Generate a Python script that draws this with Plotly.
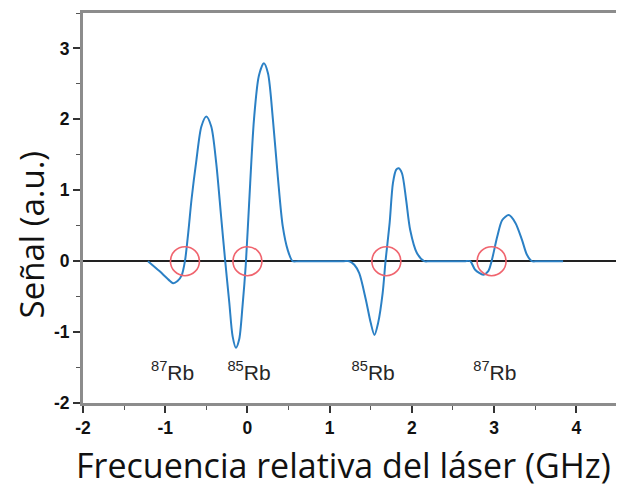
import plotly.graph_objects as go

# ---- data ----
freq_ghz = [-1.21, -1.07, -0.96, -0.905, -0.85, -0.80, -0.76, -0.72, -0.68, -0.62,
            -0.56, -0.50, -0.44, -0.38, -0.32, -0.27, -0.22, -0.18, -0.14, -0.10,
            -0.06, -0.02, 0.02, 0.08, 0.14, 0.20, 0.25, 0.31, 0.37, 0.43,
            0.49, 0.55, 0.62, 1.17, 1.24, 1.30, 1.36, 1.44, 1.50, 1.545,
            1.59, 1.645, 1.68, 1.73, 1.77, 1.81, 1.84, 1.88, 1.93, 1.98,
            2.06, 2.15, 2.22, 2.64, 2.71, 2.77, 2.87, 2.93, 2.97, 3.04,
            3.10, 3.18, 3.26, 3.34, 3.40, 3.46, 3.53, 3.84]
signal_au = [0.0, -0.14, -0.26, -0.31, -0.28, -0.20, 0.0, 0.40, 0.87, 1.43,
             1.90, 2.04, 1.90, 1.39, 0.63, 0.0, -0.59, -1.06, -1.22, -1.10,
             -0.64, -0.05, 0.80, 2.00, 2.62, 2.79, 2.65, 2.00, 1.19, 0.49,
             0.16, 0.0, 0.0, 0.0, 0.0, -0.05, -0.17, -0.54, -0.87, -1.04,
             -0.87, -0.45, 0.0, 0.54, 1.10, 1.29, 1.31, 1.24, 0.87, 0.44,
             0.12, 0.0, 0.0, 0.0, 0.0, -0.12, -0.19, -0.14, 0.0, 0.35,
             0.58, 0.65, 0.54, 0.30, 0.09, 0.0, 0.0, 0.0]

circle_x = [-0.76, 0.0, 1.69, 2.97]
circle_y = [0, 0, 0, 0]

label_x = [-0.91, 0.02, 1.53, 3.01]
label_y = [-1.6, -1.6, -1.6, -1.6]
label_text = ["<sup>87</sup>Rb", "<sup>85</sup>Rb", "<sup>85</sup>Rb", "<sup>87</sup>Rb"]

x_ticks = [-2, -1, 0, 1, 2, 3, 4]
x_tick_labels = ["<b>-2</b>", "<b>-1</b>", "<b>0</b>", "<b>1</b>", "<b>2</b>", "<b>3</b>", "<b>4</b>"]
y_ticks = [-2, -1, 0, 1, 2, 3]
y_tick_labels = ["<b>-2</b>", "<b>-1</b>", "<b>0</b>", "<b>1</b>", "<b>2</b>", "<b>3</b>"]

x_title = "Frecuencia relativa del láser (GHz)"
y_title = "Señal (a.u.)"

fig = go.Figure()

fig.add_trace(go.Scatter(
    x=freq_ghz, y=signal_au, mode="lines",
    line=dict(color="#2b80c5", width=2, shape="spline", smoothing=0.8),
    showlegend=False, hoverinfo="skip"))

fig.add_trace(go.Scatter(
    x=circle_x, y=circle_y, mode="markers",
    marker=dict(symbol="circle-open", size=29, color="#f0646e",
                line=dict(width=1.6, color="#f0646e")),
    showlegend=False, hoverinfo="skip"))

fig.add_trace(go.Scatter(
    x=label_x, y=label_y, mode="text", text=label_text,
    textfont=dict(family="Liberation Sans Narrow, Liberation Sans, Arial", size=21, color="#262626"),
    showlegend=False, hoverinfo="skip"))

axis_common = dict(
    showline=True, linecolor="#8c8c8c", linewidth=3, mirror=True,
    ticks="outside", ticklen=7, tickwidth=1.5, tickcolor="#333333",
    showgrid=False, automargin=False,
    tickfont=dict(family="Liberation Sans, Arial", size=17.5, color="#111111"),
    minor=dict(ticks="outside", ticklen=4, tickwidth=1.2, tickcolor="#555555", dtick=0.5, showgrid=False),
)

fig.update_xaxes(
    range=[-2, 4.52], tickmode="array", tickvals=x_ticks, ticktext=x_tick_labels,
    zeroline=False, **axis_common)
fig.update_yaxes(
    range=[-2, 3.5], tickmode="array", tickvals=y_ticks, ticktext=y_tick_labels,
    zeroline=True, zerolinecolor="#222222", zerolinewidth=1.6, **axis_common)

fig.add_annotation(text=x_title, xref="paper", yref="paper", x=0.486, y=-0.158,
                   xanchor="center", yanchor="middle", showarrow=False,
                   font=dict(family="Open Sans, Noto Sans", size=34, color="#111111"))
fig.add_annotation(text=y_title, xref="paper", yref="paper", x=-0.096, y=0.431,
                   xanchor="center", yanchor="middle", showarrow=False, textangle=-90,
                   font=dict(family="Open Sans, Noto Sans", size=33, color="#111111"))

# page body has an 8px default margin, so the figure is sized/placed to compensate
fig.update_layout(
    width=616, height=480,
    margin=dict(l=75, r=5, t=5, b=85),
    paper_bgcolor="white", plot_bgcolor="white",
)

fig.write_html("out.html")
